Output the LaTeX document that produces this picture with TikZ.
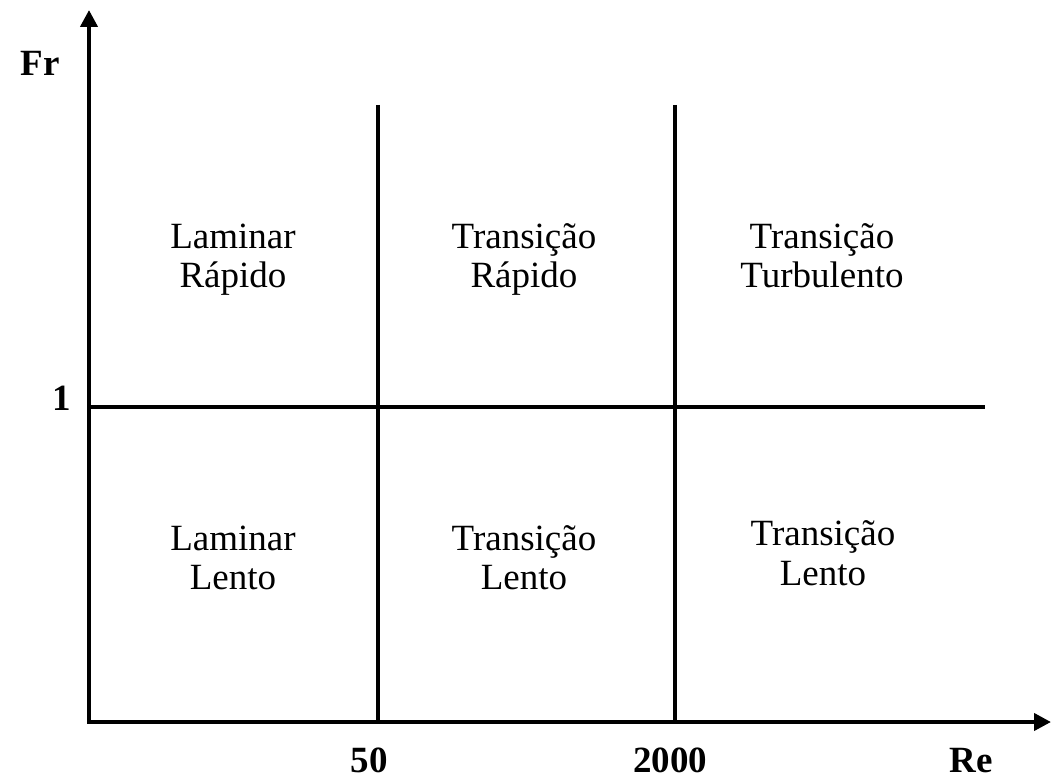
\documentclass[tikz,border=0pt]{standalone}
\usepackage{fontspec}
\setmainfont{Liberation Serif}
\usetikzlibrary{arrows.meta}
\begin{document}
\begin{tikzpicture}[x=1pt,y=-1pt,
  axis/.style={line width=4pt,-{Triangle[length=17pt,width=17pt]}},
  grid/.style={line width=3.5pt},
  cell/.style={anchor=base,inner sep=0pt,font=\fontsize{37}{40}\selectfont},
  lab/.style={anchor=base,inner sep=0pt,font=\fontsize{37}{40}\selectfont\bfseries}]
\useasboundingbox (0,0) rectangle (1051,778);
% axes
\coordinate (O) at (89,722);
\coordinate (Ytip) at (89,10);
\coordinate (Xtip) at (1051,722);
\coordinate (v1t) at (378,105);
\coordinate (v1b) at (378,722);
\coordinate (v2t) at (675,105);
\coordinate (v2b) at (675,722);
\coordinate (hl) at (89,407);
\coordinate (hr) at (985,407);
\draw[grid] (v1t) -- (v1b);
\draw[grid] (v2t) -- (v2b);
\draw[grid] (hl) -- (hr);
\draw[axis] ([yshift=2pt]O) -- (Ytip);
\draw[axis] ([xshift=-2pt]O) -- (Xtip);
% axis labels
\node[lab] (fr) at (40,76) {Fr};
\node[lab] (one) at (62,410) {1};
\node[lab] (l50) at (369,772) {50};
\node[lab] (l2000) at (670,772) {2000};
\node[lab] (re) at (971,772) {Re};
% cells
\node[cell] (a1) at (233,248) {Laminar};
\node[cell] (a2) at (233,287) {Rápido};
\node[cell] (b1) at (524,248) {Transição};
\node[cell] (b2) at (524,287) {Rápido};
\node[cell] (c1) at (822,248) {Transição};
\node[cell] (c2) at (822,287) {Turbulento};
\node[cell] (d1) at (233,550) {Laminar};
\node[cell] (d2) at (233,589) {Lento};
\node[cell] (e1) at (524,550) {Transição};
\node[cell] (e2) at (524,589) {Lento};
\node[cell] (f1) at (823,545) {Transição};
\node[cell] (f2) at (823,585) {Lento};
\end{tikzpicture}
\end{document}
